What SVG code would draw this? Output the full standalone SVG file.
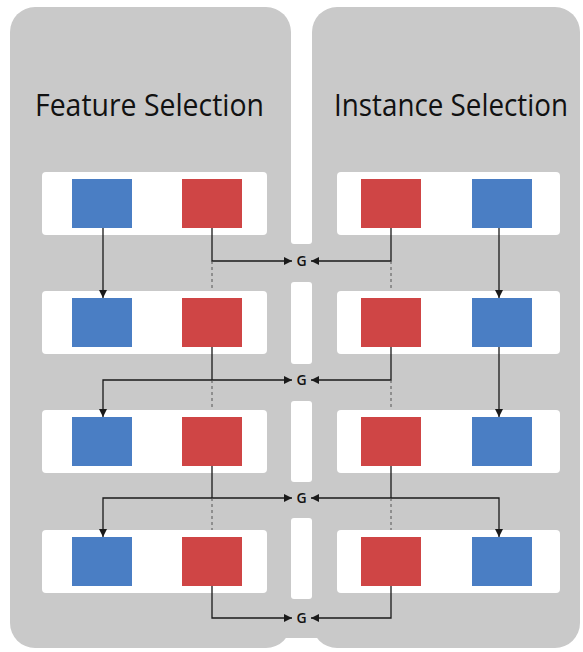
<svg xmlns="http://www.w3.org/2000/svg" width="583" height="652" viewBox="0 0 583 652">
<style>
.panel{fill:#c9c9c9}
.gap{fill:#ffffff}
.bar{fill:#ffffff}
.blue{fill:#4a7ec4}
.red{fill:#cf4545}
.title{font-family:"Open Sans","Liberation Sans",sans-serif;font-size:28px;fill:#111}
.g{font-family:"Open Sans","Liberation Sans",sans-serif;font-size:14px;font-weight:600;fill:#111;text-anchor:middle}
.ln{fill:none;stroke:#1a1a1a;stroke-width:1.3}
.dot{fill:none;stroke:#555;stroke-width:1;stroke-dasharray:3 3}
</style>
<defs>
<marker id="ah" markerUnits="userSpaceOnUse" markerWidth="8" markerHeight="8" refX="8" refY="4" orient="auto">
<path d="M0,0 L8,4 L0,8 z" fill="#1a1a1a"/>
</marker>
</defs>
<rect width="583" height="652" fill="#ffffff"/>
<g id="panels">
<rect class="panel" x="10" y="7" width="281" height="641" rx="25"/>
<rect class="panel" x="312" y="7" width="268" height="641" rx="25"/>
<rect class="panel" x="286" y="100" width="31" height="538"/>
<rect class="gap" x="291" y="-10" width="21" height="254" rx="3"/>
<rect class="gap" x="291" y="282" width="21" height="82" rx="3"/>
<rect class="gap" x="291" y="401" width="21" height="81" rx="3"/>
<rect class="gap" x="291" y="518" width="21" height="81" rx="3"/>
</g>
<g id="titles">
<text class="title" transform="translate(35,116) scale(1,1.12)" x="0" y="0" textLength="229" lengthAdjust="spacingAndGlyphs">Feature Selection</text>
<text class="title" transform="translate(334,116) scale(1,1.12)" x="0" y="0" textLength="234" lengthAdjust="spacingAndGlyphs">Instance Selection</text>
</g>
<g id="row1">
<rect class="bar" x="42" y="172" width="225" height="63" rx="4"/>
<rect class="bar" x="337" y="172" width="223" height="63" rx="4"/>
<rect class="blue" x="72" y="179" width="60" height="49"/>
<rect class="red" x="182" y="179" width="60" height="49"/>
<rect class="red" x="361" y="179" width="60" height="49"/>
<rect class="blue" x="472" y="179" width="60" height="49"/>
</g>
<g id="row2">
<rect class="bar" x="42" y="291" width="225" height="63" rx="4"/>
<rect class="bar" x="337" y="291" width="223" height="63" rx="4"/>
<rect class="blue" x="72" y="298" width="60" height="49"/>
<rect class="red" x="182" y="298" width="60" height="49"/>
<rect class="red" x="361" y="298" width="60" height="49"/>
<rect class="blue" x="472" y="298" width="60" height="49"/>
</g>
<g id="row3">
<rect class="bar" x="42" y="410" width="225" height="63" rx="4"/>
<rect class="bar" x="337" y="410" width="223" height="63" rx="4"/>
<rect class="blue" x="72" y="417" width="60" height="49"/>
<rect class="red" x="182" y="417" width="60" height="49"/>
<rect class="red" x="361" y="417" width="60" height="49"/>
<rect class="blue" x="472" y="417" width="60" height="49"/>
</g>
<g id="row4">
<rect class="bar" x="42" y="530" width="225" height="63" rx="4"/>
<rect class="bar" x="337" y="530" width="223" height="63" rx="4"/>
<rect class="blue" x="72" y="537" width="60" height="49"/>
<rect class="red" x="182" y="537" width="60" height="49"/>
<rect class="red" x="361" y="537" width="60" height="49"/>
<rect class="blue" x="472" y="537" width="60" height="49"/>
</g>
<g id="g-nodes">
<text class="g" x="301.5" y="266">G</text>
<text class="g" x="301.5" y="385">G</text>
<text class="g" x="301.5" y="503">G</text>
<text class="g" x="301.5" y="623">G</text>
</g>
<g id="connectors">
<path class="ln" d="M103,228 V298" marker-end="url(#ah)"/>
<path class="ln" d="M499,228 V298" marker-end="url(#ah)"/>
<path class="ln" d="M499,347 V417" marker-end="url(#ah)"/>
<path class="ln" d="M212,228 V261 H292" marker-end="url(#ah)"/>
<path class="ln" d="M391,228 V261 H311" marker-end="url(#ah)"/>
<path class="ln" d="M212,347 V380 H292" marker-end="url(#ah)"/>
<path class="ln" d="M212,380 H103 V417" marker-end="url(#ah)"/>
<path class="ln" d="M391,347 V380 H311" marker-end="url(#ah)"/>
<path class="ln" d="M212,466 V498 H292" marker-end="url(#ah)"/>
<path class="ln" d="M212,498 H103 V537" marker-end="url(#ah)"/>
<path class="ln" d="M391,466 V498 H311" marker-end="url(#ah)"/>
<path class="ln" d="M391,498 H499 V537" marker-end="url(#ah)"/>
<path class="ln" d="M212,586 V618 H292" marker-end="url(#ah)"/>
<path class="ln" d="M391,586 V618 H311" marker-end="url(#ah)"/>
<path class="dot" d="M212,261 V291 M212,380 V410 M212,498 V530 M391,261 V291 M391,380 V410 M391,498 V530"/>
</g>
</svg>
